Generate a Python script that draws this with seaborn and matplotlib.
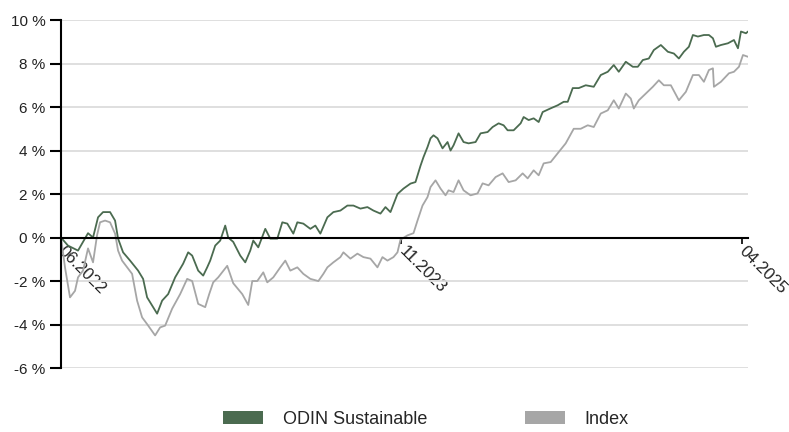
"""Linjediagram - ODIN Sustainable mot indeks, akkumulert avkastning"""
import matplotlib
matplotlib.use('Agg')
import matplotlib.pyplot as plt
from matplotlib.patches import Patch
import seaborn as sns
import pandas as pd

FUND_COLOR = '#4b6b50'
INDEX_COLOR = '#a6a6a6'

# måneder etter 06.2022
tick_months = [0, 17, 34]
tick_labels = ['06.2022', '11.2023', '04.2025']
y_ticks = [-6, -4, -2, 0, 2, 4, 6, 8, 10]

fund_months = [
    0.00, 0.35, 0.85, 1.10, 1.35, 1.60, 1.85, 2.10, 2.45, 2.70,
    2.85, 3.10, 3.45, 3.85, 4.10, 4.30, 4.60, 4.80, 5.05, 5.35,
    5.70, 6.10, 6.35, 6.55, 6.85, 7.10, 7.30, 7.45, 7.70, 7.95,
    8.20, 8.35, 8.60, 8.95, 9.20, 9.45, 9.60, 9.85, 10.20, 10.45,
    10.80, 11.05, 11.30, 11.60, 11.80, 12.10, 12.45, 12.70, 12.95, 13.30,
    13.60, 13.95, 14.30, 14.60, 14.95, 15.30, 15.60, 15.95, 16.20, 16.45,
    16.80, 17.10, 17.45, 17.70, 17.95, 18.10, 18.30, 18.45, 18.60, 18.80,
    19.05, 19.30, 19.45, 19.60, 19.85, 20.10, 20.35, 20.70, 20.95, 21.30,
    21.55, 21.85, 22.10, 22.30, 22.60, 22.95, 23.10, 23.35, 23.60, 23.85,
    24.05, 24.45, 24.80, 25.10, 25.30, 25.55, 25.85, 26.20, 26.60, 26.95,
    27.30, 27.60, 27.85, 28.20, 28.55, 28.80, 29.05, 29.35, 29.60, 29.95,
    30.30, 30.60, 30.85, 31.10, 31.35, 31.55, 31.80, 32.10, 32.35, 32.55,
    32.70, 32.95, 33.30, 33.60, 33.80, 33.95, 34.20, 34.30,
]
fund_values = [
    0, -0.37, -0.6, -0.2, 0.2, 0.0, 0.93, 1.17, 1.17, 0.78,
    -0.05, -0.68, -1.06, -1.52, -1.9, -2.75, -3.2, -3.5, -2.9, -2.6,
    -1.83, -1.2, -0.68, -0.83, -1.52, -1.75, -1.37, -1.06, -0.37, -0.14,
    0.55, 0.0, -0.2, -0.83, -1.14, -0.6, -0.14, -0.45, 0.4, -0.05,
    -0.05, 0.7, 0.64, 0.18, 0.7, 0.64, 0.4, 0.55, 0.18, 0.93,
    1.17, 1.24, 1.47, 1.47, 1.33, 1.4, 1.24, 1.1, 1.4, 1.17,
    2.0, 2.25, 2.48, 2.55, 3.3, 3.7, 4.16, 4.56, 4.7, 4.56,
    4.1, 4.39, 4.0, 4.24, 4.79, 4.39, 4.33, 4.39, 4.79, 4.85,
    5.08, 5.25, 5.16, 4.93, 4.93, 5.25, 5.54, 5.4, 5.48, 5.31,
    5.77, 5.94, 6.08, 6.24, 6.24, 6.87, 6.87, 7.0, 6.93, 7.47,
    7.62, 7.93, 7.62, 8.08, 7.85, 7.85, 8.16, 8.23, 8.62, 8.85,
    8.54, 8.46, 8.23, 8.54, 8.77, 9.31, 9.24, 9.31, 9.31, 9.16,
    8.77, 8.85, 8.93, 9.08, 8.7, 9.47, 9.39, 9.47,
]

index_months = [
    0.00, 0.20, 0.45, 0.70, 0.85, 1.10, 1.35, 1.60, 1.80, 1.95,
    2.20, 2.45, 2.70, 2.85, 3.05, 3.55, 3.80, 4.05, 4.30, 4.70,
    4.95, 5.20, 5.55, 5.95, 6.30, 6.55, 6.85, 7.20, 7.40, 7.60,
    7.85, 8.30, 8.60, 9.05, 9.35, 9.55, 9.80, 10.10, 10.30, 10.60,
    10.95, 11.20, 11.45, 11.80, 12.10, 12.45, 12.85, 13.10, 13.30, 13.60,
    13.95, 14.10, 14.45, 14.80, 15.10, 15.45, 15.80, 16.05, 16.30, 16.60,
    16.80, 16.95, 17.30, 17.60, 17.80, 18.05, 18.30, 18.45, 18.70, 18.95,
    19.20, 19.35, 19.60, 19.85, 20.10, 20.45, 20.80, 21.05, 21.35, 21.70,
    22.05, 22.35, 22.70, 23.05, 23.30, 23.60, 23.85, 24.10, 24.45, 24.85,
    25.20, 25.60, 25.95, 26.30, 26.60, 26.95, 27.30, 27.60, 27.85, 28.20,
    28.45, 28.60, 28.85, 29.20, 29.55, 29.85, 30.10, 30.45, 30.85, 31.20,
    31.55, 31.85, 32.10, 32.35, 32.55, 32.60, 32.95, 33.35, 33.60, 33.85,
    34.05, 34.30,
]
index_values = [
    0, -1.37, -2.75, -2.45, -1.83, -1.52, -0.5, -1.14, 0.1, 0.7,
    0.78, 0.7, 0.18, -0.6, -1.06, -1.67, -2.9, -3.67, -3.98, -4.5,
    -4.13, -4.05, -3.27, -2.6, -1.9, -2.0, -3.05, -3.2, -2.6, -2.06,
    -1.83, -1.3, -2.1, -2.6, -3.1, -2.0, -2.0, -1.6, -2.06, -1.83,
    -1.37, -1.06, -1.52, -1.37, -1.67, -1.9, -2.0, -1.67, -1.37, -1.14,
    -0.9, -0.68, -0.97, -0.74, -0.9, -0.97, -1.37, -0.9, -1.06, -0.9,
    -0.68, -0.1, 0.1, 0.2, 0.78, 1.47, 1.86, 2.32, 2.63, 2.25,
    1.94, 2.17, 2.09, 2.63, 2.17, 1.94, 2.03, 2.49, 2.4, 2.78,
    2.95, 2.55, 2.63, 2.95, 2.72, 3.09, 2.86, 3.41, 3.47, 3.93,
    4.33, 5.0, 5.0, 5.16, 5.08, 5.7, 5.85, 6.31, 5.93, 6.62,
    6.39, 5.93, 6.31, 6.62, 6.93, 7.23, 7.0, 7.0, 6.31, 6.7,
    7.47, 7.47, 7.16, 7.7, 7.78, 6.93, 7.16, 7.55, 7.62, 7.85,
    8.39, 8.31,
]

sns.set_style('white')
plt.rcParams['font.family'] = ['Liberation Sans', 'DejaVu Sans']

fund_df = pd.DataFrame({'month': fund_months, 'value': fund_values})
index_df = pd.DataFrame({'month': index_months, 'value': index_values})

fig = plt.figure(figsize=(7.89, 4.32), dpi=100)
ax = fig.add_axes([0.0773, 0.148, 0.8707, 0.8057])

sns.lineplot(data=index_df, x='month', y='value', color=INDEX_COLOR,
             linewidth=1.3, sort=False, ax=ax)
sns.lineplot(data=fund_df, x='month', y='value', color=FUND_COLOR,
             linewidth=1.3, sort=False, ax=ax)

ax.set_xlim(0, 34.3)
ax.set_ylim(-6, 10)
ax.set_xlabel('')
ax.set_ylabel('')

ax.grid(axis='y', color='#dcdcdc', linewidth=1.3)
ax.grid(axis='x', visible=False)
ax.set_axisbelow(True)

for side in ['top', 'right']:
    ax.spines[side].set_visible(False)
ax.spines['left'].set_color('black')
ax.spines['left'].set_linewidth(1.5)
# nullinjen er x-aksen
ax.spines['bottom'].set_position(('data', 0))
ax.spines['bottom'].set_color('black')
ax.spines['bottom'].set_linewidth(1.5)

ax.set_yticks(y_ticks)
ax.set_yticklabels([f'{t} %' for t in y_ticks], fontsize=11)
ax.set_xticks(tick_months)
ax.set_xticklabels(tick_labels, fontsize=12)

ax.tick_params(axis='y', which='major', left=True, length=8, width=1.5,
               color='black', pad=3, labelcolor='#222222')
ax.tick_params(axis='x', which='major', bottom=True, length=4, width=1.2,
               color='black', pad=4, labelcolor='#222222', labelrotation=-45)
for lbl in ax.get_xticklabels():
    lbl.set_ha('left')
    lbl.set_va('center')
    lbl.set_rotation_mode('anchor')

handles = [Patch(facecolor=FUND_COLOR, edgecolor='none', label='ODIN Sustainable'),
           Patch(facecolor=INDEX_COLOR, edgecolor='none', label='Index')]
fig.legend(handles=handles, loc='center', bbox_to_anchor=(0.54, 0.03), ncol=2,
           frameon=False, fontsize=13, handlelength=2.2, handleheight=0.7,
           handletextpad=1.1, columnspacing=5.4)

plt.savefig('out.png', dpi=100)
plt.close(fig)
